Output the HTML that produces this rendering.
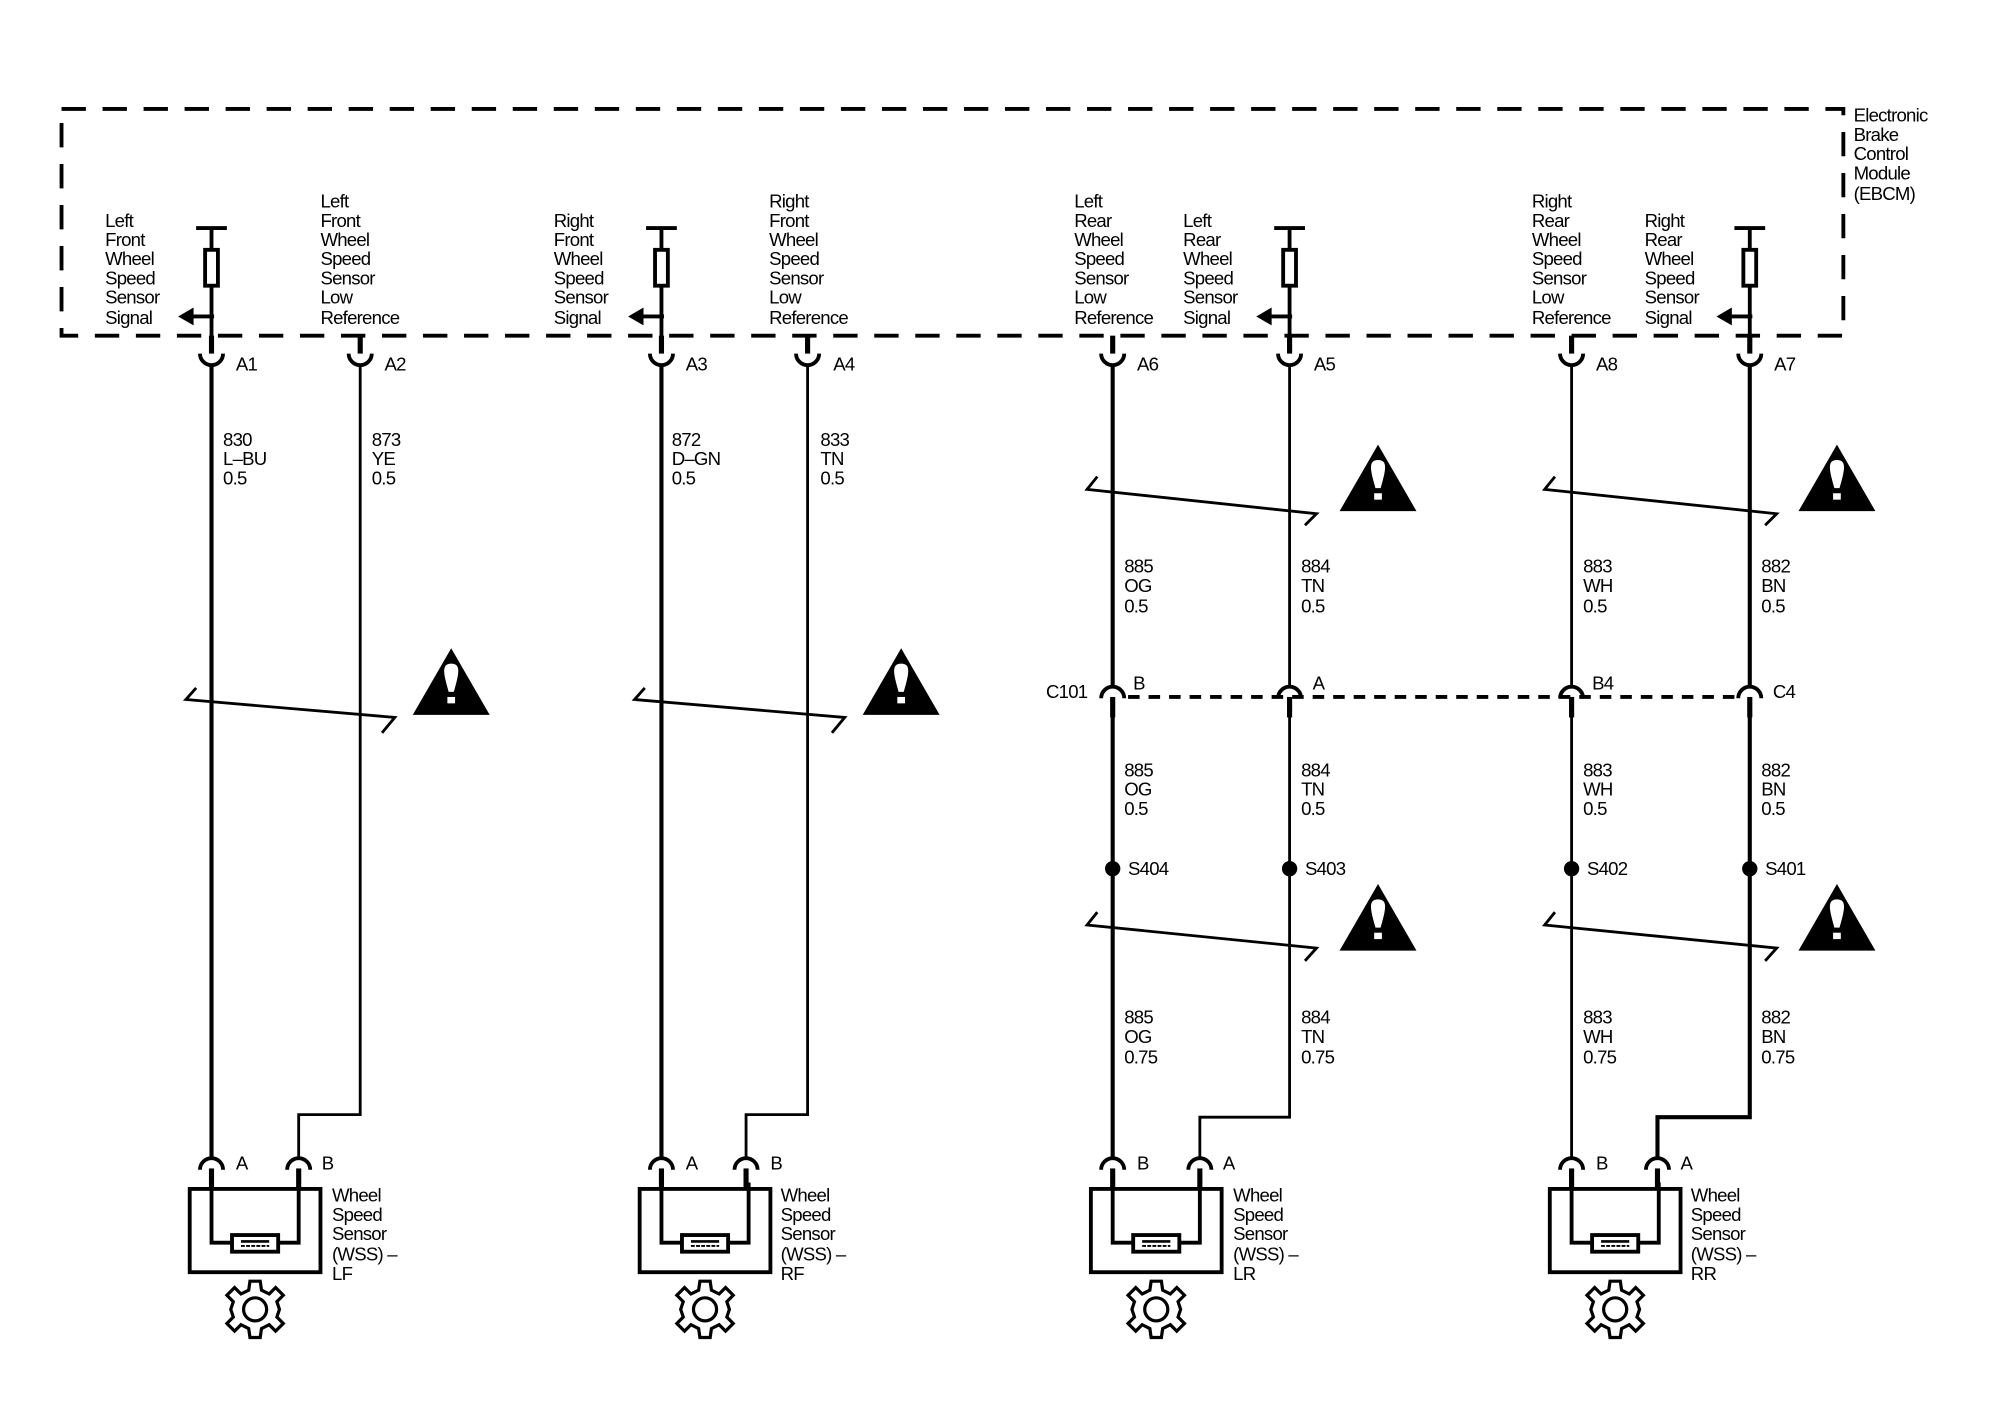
<!DOCTYPE html>
<html><head><meta charset="utf-8"><style>
html,body{margin:0;padding:0;background:#fff}
svg{display:block}
text{font-family:"Liberation Sans",Arial,sans-serif;font-size:14.5px;fill:#000;letter-spacing:-0.6px}
</style></head><body>
<svg width="2010" height="1408" viewBox="0 0 1568 1099" preserveAspectRatio="none" xmlns="http://www.w3.org/2000/svg">
<defs>
<g id="cup"><path d="M-9,-6 A9,9 0 0 0 9,-6" fill="none" stroke="#000" stroke-width="3"/></g>
<g id="arch"><path d="M-9,6 A9,9 0 0 1 9,6" fill="none" stroke="#000" stroke-width="3"/></g>
<g id="warn"><polygon points="0,0 30,52 -30,52" fill="#000"/><path d="M0,12 C-8,12 -6,20 -2,34 L2,34 C6,20 8,12 0,12Z" fill="#fff"/><rect x="-3" y="38" width="6" height="5" fill="#fff"/></g>
<g id="res"><line x1="-12" y1="0" x2="12" y2="0" stroke="#000" stroke-width="3"/><rect x="-5" y="17" width="10" height="28" fill="#fff" stroke="#000" stroke-width="3"/><polygon points="-26,69 -14,62 -14,76" fill="#000"/><line x1="-16" y1="69" x2="2" y2="69" stroke="#000" stroke-width="3"/></g>
<g id="gear" fill="none" stroke="#000" stroke-width="2.5">
<path d="M-4,-22 L4,-22 L5,-15 L11,-12 L16,-17 L22,-11 L17,-6 L19,0 L17,6 L22,11 L16,17 L11,12 L5,15 L4,22 L-4,22 L-5,15 L-11,12 L-16,17 L-22,11 L-17,6 L-19,0 L-17,-6 L-22,-11 L-16,-17 L-11,-12 L-5,-15 Z"/>
<circle r="9"/></g>
<g id="sensor">
<rect x="0" y="0" width="102" height="65" fill="none" stroke="#000" stroke-width="3"/>
<path d="M17,-5 V42 H85 V-5" fill="none" stroke="#000" stroke-width="3"/>
<rect x="33" y="36" width="36" height="13" fill="#fff" stroke="#000" stroke-width="3"/>
<line x1="40" y1="41" x2="62" y2="41" stroke="#000" stroke-width="2"/><line x1="40" y1="44.5" x2="62" y2="44.5" stroke="#000" stroke-width="1.5" stroke-dasharray="3,1"/>
</g>
</defs>

<rect x="48" y="85" width="1390" height="177" fill="none" stroke="#000" stroke-width="3" stroke-dasharray="19,13"/>
<text x="1446" y="95">Electronic</text><text x="1446" y="110">Brake</text><text x="1446" y="125">Control</text><text x="1446" y="140">Module</text><text x="1446" y="156">(EBCM)</text>

<use href="#res" x="165" y="178"/><use href="#res" x="516" y="178"/><use href="#res" x="1006" y="178"/><use href="#res" x="1365" y="178"/>
<g stroke="#000" stroke-width="3"><line x1="165" y1="178" x2="165" y2="195"/><line x1="516" y1="178" x2="516" y2="195"/><line x1="1006" y1="178" x2="1006" y2="195"/><line x1="1365" y1="178" x2="1365" y2="195"/>
<line x1="165" y1="224" x2="165" y2="275"/><line x1="516" y1="224" x2="516" y2="275"/><line x1="1006" y1="224" x2="1006" y2="275"/><line x1="1365" y1="224" x2="1365" y2="275"/></g>
<g stroke="#000" stroke-width="4"><line x1="281" y1="262" x2="281" y2="276"/><line x1="630" y1="262" x2="630" y2="276"/><line x1="868" y1="262" x2="868" y2="276"/><line x1="1226" y1="262" x2="1226" y2="276"/>
<line x1="165" y1="262" x2="165" y2="276"/><line x1="516" y1="262" x2="516" y2="276"/><line x1="1006" y1="262" x2="1006" y2="276"/><line x1="1365" y1="262" x2="1365" y2="276"/></g>

<g><text x="82" y="177">Left</text><text x="82" y="192">Front</text><text x="82" y="207">Wheel</text><text x="82" y="222">Speed</text><text x="82" y="237">Sensor</text><text x="82" y="253">Signal</text></g>
<g><text x="250" y="162">Left</text><text x="250" y="177">Front</text><text x="250" y="192">Wheel</text><text x="250" y="207">Speed</text><text x="250" y="222">Sensor</text><text x="250" y="237">Low</text><text x="250" y="253">Reference</text></g>
<g><text x="432" y="177">Right</text><text x="432" y="192">Front</text><text x="432" y="207">Wheel</text><text x="432" y="222">Speed</text><text x="432" y="237">Sensor</text><text x="432" y="253">Signal</text></g>
<g><text x="600" y="162">Right</text><text x="600" y="177">Front</text><text x="600" y="192">Wheel</text><text x="600" y="207">Speed</text><text x="600" y="222">Sensor</text><text x="600" y="237">Low</text><text x="600" y="253">Reference</text></g>
<g><text x="838" y="162">Left</text><text x="838" y="177">Rear</text><text x="838" y="192">Wheel</text><text x="838" y="207">Speed</text><text x="838" y="222">Sensor</text><text x="838" y="237">Low</text><text x="838" y="253">Reference</text></g>
<g><text x="923" y="177">Left</text><text x="923" y="192">Rear</text><text x="923" y="207">Wheel</text><text x="923" y="222">Speed</text><text x="923" y="237">Sensor</text><text x="923" y="253">Signal</text></g>
<g><text x="1195" y="162">Right</text><text x="1195" y="177">Rear</text><text x="1195" y="192">Wheel</text><text x="1195" y="207">Speed</text><text x="1195" y="222">Sensor</text><text x="1195" y="237">Low</text><text x="1195" y="253">Reference</text></g>
<g><text x="1283" y="177">Right</text><text x="1283" y="192">Rear</text><text x="1283" y="207">Wheel</text><text x="1283" y="222">Speed</text><text x="1283" y="237">Sensor</text><text x="1283" y="253">Signal</text></g>

<use href="#cup" x="165" y="282"/><use href="#cup" x="281" y="282"/><use href="#cup" x="516" y="282"/><use href="#cup" x="630" y="282"/>
<use href="#cup" x="868" y="282"/><use href="#cup" x="1006" y="282"/><use href="#cup" x="1226" y="282"/><use href="#cup" x="1365" y="282"/>
<text x="184" y="289">A1</text><text x="300" y="289">A2</text><text x="535" y="289">A3</text><text x="650" y="289">A4</text>
<text x="887" y="289">A6</text><text x="1025" y="289">A5</text><text x="1245" y="289">A8</text><text x="1384" y="289">A7</text>

<g fill="none" stroke="#000">
<path d="M165,285 V904" stroke-width="3.2"/>
<path d="M281,285 V870 H233 V904" stroke-width="2.2"/>
<path d="M516,285 V904" stroke-width="3.2"/>
<path d="M630,285 V870 H582 V904" stroke-width="2.2"/>
<path d="M868,285 V536 M868,546 V904" stroke-width="3.2"/>
<path d="M1006,285 V536 M1006,546 V872 H936 V904" stroke-width="2.2"/>
<path d="M1226,285 V536 M1226,546 V904" stroke-width="2.2"/>
<path d="M1365,285 V536 M1365,546 V872 H1293 V904" stroke-width="3.2"/>
</g>

<text x="174" y="348">830</text><text x="174" y="363">L–BU</text><text x="174" y="378">0.5</text>
<text x="290" y="348">873</text><text x="290" y="363">YE</text><text x="290" y="378">0.5</text>
<text x="524" y="348">872</text><text x="524" y="363">D–GN</text><text x="524" y="378">0.5</text>
<text x="640" y="348">833</text><text x="640" y="363">TN</text><text x="640" y="378">0.5</text>

<g fill="none" stroke="#000" stroke-width="2.2">
<path d="M153,537 L145,546 L308,560 L298,572"/>
<path d="M503,537 L495,546 L659,560 L649,572"/>
<path d="M856,372 L848,382 L1027,401 L1018,410"/>
<path d="M1213,372 L1205,382 L1386,401 L1377,410"/>
<path d="M856,712 L848,722 L1027,740 L1018,750"/>
<path d="M1213,712 L1205,722 L1386,740 L1377,750"/>
</g>
<use href="#warn" x="352" y="506"/><use href="#warn" x="703" y="506"/>
<use href="#warn" x="1075" y="347"/><use href="#warn" x="1433" y="347"/>
<use href="#warn" x="1075" y="690"/><use href="#warn" x="1433" y="690"/>

<g>
<text x="877" y="447">885</text><text x="877" y="462">OG</text><text x="877" y="478">0.5</text>
<text x="1015" y="447">884</text><text x="1015" y="462">TN</text><text x="1015" y="478">0.5</text>
<text x="1235" y="447">883</text><text x="1235" y="462">WH</text><text x="1235" y="478">0.5</text>
<text x="1374" y="447">882</text><text x="1374" y="462">BN</text><text x="1374" y="478">0.5</text>
<text x="877" y="606">885</text><text x="877" y="621">OG</text><text x="877" y="636">0.5</text>
<text x="1015" y="606">884</text><text x="1015" y="621">TN</text><text x="1015" y="636">0.5</text>
<text x="1235" y="606">883</text><text x="1235" y="621">WH</text><text x="1235" y="636">0.5</text>
<text x="1374" y="606">882</text><text x="1374" y="621">BN</text><text x="1374" y="636">0.5</text>
<text x="877" y="799">885</text><text x="877" y="814">OG</text><text x="877" y="830">0.75</text>
<text x="1015" y="799">884</text><text x="1015" y="814">TN</text><text x="1015" y="830">0.75</text>
<text x="1235" y="799">883</text><text x="1235" y="814">WH</text><text x="1235" y="830">0.75</text>
<text x="1374" y="799">882</text><text x="1374" y="814">BN</text><text x="1374" y="830">0.75</text>
</g>

<line x1="880" y1="544" x2="1356" y2="544" stroke="#000" stroke-width="3" stroke-dasharray="9,7"/>
<use href="#arch" x="868" y="539"/><use href="#arch" x="1006" y="539"/><use href="#arch" x="1226" y="539"/><use href="#arch" x="1365" y="539"/>
<g stroke="#000" stroke-width="4"><line x1="868" y1="544" x2="868" y2="560"/><line x1="1006" y1="544" x2="1006" y2="560"/><line x1="1226" y1="544" x2="1226" y2="560"/><line x1="1365" y1="544" x2="1365" y2="560"/></g>
<text x="816" y="545">C101</text><text x="884" y="538">B</text><text x="1024" y="538">A</text><text x="1242" y="538">B4</text><text x="1383" y="545">C4</text>

<circle cx="868" cy="678" r="6"/><circle cx="1006" cy="678" r="6"/><circle cx="1226" cy="678" r="6"/><circle cx="1365" cy="678" r="6"/>
<text x="880" y="683">S404</text><text x="1018" y="683">S403</text><text x="1238" y="683">S402</text><text x="1377" y="683">S401</text>

<use href="#arch" x="165" y="907"/><use href="#arch" x="233" y="907"/><text x="184" y="913">A</text><text x="251" y="913">B</text>
<use href="#arch" x="516" y="907"/><use href="#arch" x="582" y="907"/><text x="535" y="913">A</text><text x="601" y="913">B</text>
<use href="#arch" x="868" y="907"/><use href="#arch" x="936" y="907"/><text x="887" y="913">B</text><text x="954" y="913">A</text>
<use href="#arch" x="1226" y="907"/><use href="#arch" x="1293" y="907"/><text x="1245" y="913">B</text><text x="1311" y="913">A</text>
<g stroke="#000" stroke-width="4"><line x1="165" y1="912" x2="165" y2="928"/><line x1="233" y1="912" x2="233" y2="928"/><line x1="516" y1="912" x2="516" y2="928"/><line x1="582" y1="912" x2="582" y2="928"/><line x1="868" y1="912" x2="868" y2="928"/><line x1="936" y1="912" x2="936" y2="928"/><line x1="1226" y1="912" x2="1226" y2="928"/><line x1="1293" y1="912" x2="1293" y2="928"/></g>
<use href="#sensor" x="148" y="928"/><use href="#sensor" x="499" y="928"/><use href="#sensor" x="851" y="928"/><use href="#sensor" x="1209" y="928"/>
<use href="#gear" x="199" y="1022"/><use href="#gear" x="550" y="1022"/><use href="#gear" x="902" y="1022"/><use href="#gear" x="1260" y="1022"/>
<g><text x="259" y="938">Wheel</text><text x="259" y="953">Speed</text><text x="259" y="968">Sensor</text><text x="259" y="984">(WSS) –</text><text x="259" y="999">LF</text></g>
<g><text x="609" y="938">Wheel</text><text x="609" y="953">Speed</text><text x="609" y="968">Sensor</text><text x="609" y="984">(WSS) –</text><text x="609" y="999">RF</text></g>
<g><text x="962" y="938">Wheel</text><text x="962" y="953">Speed</text><text x="962" y="968">Sensor</text><text x="962" y="984">(WSS) –</text><text x="962" y="999">LR</text></g>
<g><text x="1319" y="938">Wheel</text><text x="1319" y="953">Speed</text><text x="1319" y="968">Sensor</text><text x="1319" y="984">(WSS) –</text><text x="1319" y="999">RR</text></g>
</svg>
</body></html>
